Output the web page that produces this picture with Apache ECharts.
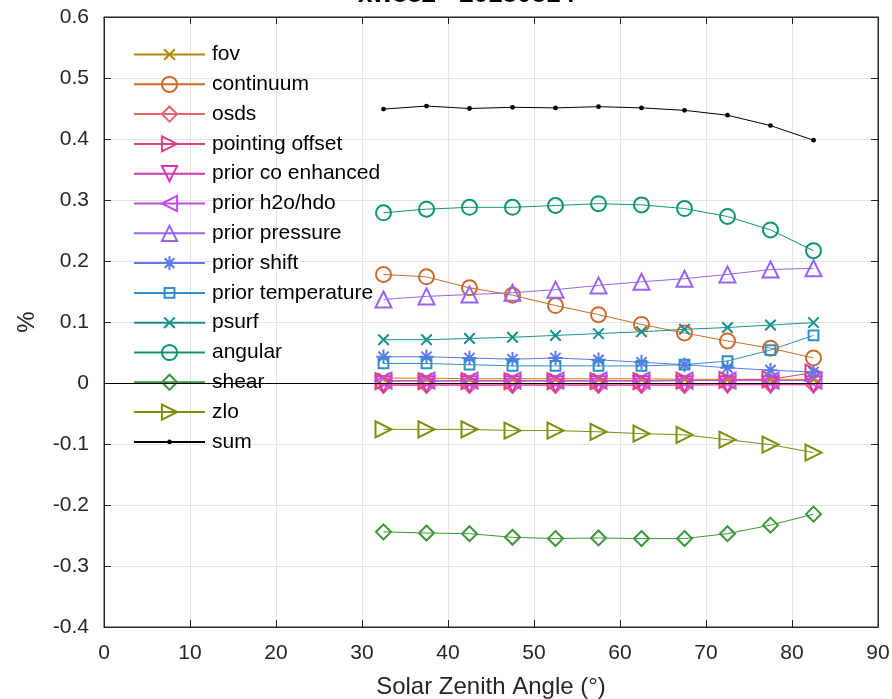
<!DOCTYPE html>
<html><head><meta charset="utf-8">
<script src="https://cdn.jsdelivr.net/npm/echarts@6/dist/echarts.min.js"></script>
<style>html,body{margin:0;padding:0;background:#fff;overflow:hidden}#c{width:892px;height:699px}</style>
</head><body><div id="c"></div>
<script>
const titleText = 'xw882 - 20180814';
const sza = [32.5, 37.5, 42.5, 47.5, 52.5, 57.5, 62.5, 67.5, 72.5, 77.5, 82.5];
const fov = [0.008, 0.008, 0.007, 0.007, 0.007, 0.007, 0.007, 0.006, 0.006, 0.006, 0.006];
const continuum = [0.178, 0.174, 0.156, 0.144, 0.127, 0.112, 0.096, 0.082, 0.069, 0.057, 0.041];
const osds = [-0.004, -0.004, -0.004, -0.004, -0.004, -0.004, -0.004, -0.004, -0.003, -0.003, -0.003];
const pointingOffset = [0.003, 0.003, 0.003, 0.003, 0.003, 0.003, 0.003, 0.004, 0.005, 0.006, 0.017];
const priorCo = [-0.002, -0.002, -0.002, -0.002, -0.002, -0.002, -0.002, -0.002, -0.002, -0.002, -0.002];
const priorH2o = [0.004, 0.004, 0.004, 0.004, 0.004, 0.004, 0.004, 0.004, 0.004, 0.004, 0.004];
const priorPressure = [0.137, 0.142, 0.145, 0.148, 0.153, 0.160, 0.166, 0.171, 0.178, 0.186, 0.188];
const priorShift = [0.043, 0.043, 0.041, 0.039, 0.041, 0.038, 0.034, 0.030, 0.025, 0.021, 0.018];
const priorTemperature = [0.032, 0.032, 0.030, 0.028, 0.028, 0.028, 0.028, 0.030, 0.036, 0.054, 0.078];
const psurf = [0.071, 0.071, 0.073, 0.075, 0.078, 0.081, 0.084, 0.088, 0.091, 0.095, 0.099];
const angular = [0.279, 0.285, 0.288, 0.288, 0.291, 0.294, 0.292, 0.286, 0.273, 0.251, 0.217];
const shear = [-0.244, -0.246, -0.247, -0.253, -0.255, -0.254, -0.255, -0.255, -0.247, -0.233, -0.215];
const zlo = [-0.076, -0.076, -0.076, -0.078, -0.078, -0.080, -0.083, -0.085, -0.093, -0.101, -0.114];
const sumVals = [0.449, 0.454, 0.450, 0.452, 0.451, 0.453, 0.451, 0.447, 0.439, 0.422, 0.398];

// padded path symbols (the M0,0M20,20 sets a fixed 20x20 box)
const XMARK = 'path://M0,0M20,20M3,3L17,17M17,3L3,17';
const SQUARE = 'path://M0,0M20,20M3.5,3.5L16.5,3.5L16.5,16.5L3.5,16.5Z';
const STAR = 'path://M0,0M20,20M10,1L10,19M1,10L19,10M3.6,3.6L16.4,16.4M16.4,3.6L3.6,16.4';
const DOT = 'path://M0,0M20,20M10,7A3,3,0,1,1,10,13A3,3,0,1,1,10,7Z';

const defs = [
  ['fov', fov, '#b8860b', XMARK, 15, 0],
  ['continuum', continuum, '#cd6a2c', 'circle', 15, 0],
  ['osds', osds, '#e4656f', 'diamond', 15, 0],
  ['pointing offset', pointingOffset, '#e23e88', 'triangle', 16, -90],
  ['prior co enhanced', priorCo, '#d535b5', 'triangle', 16, 180],
  ['prior h2o/hdo', priorH2o, '#bb4fe0', 'triangle', 16, 90],
  ['prior pressure', priorPressure, '#9a63ef', 'triangle', 16, 0],
  ['prior shift', priorShift, '#5d79ec', STAR, 16, 0],
  ['prior temperature', priorTemperature, '#2f8fc8', SQUARE, 15, 0],
  ['psurf', psurf, '#17918f', XMARK, 15, 0],
  ['angular', angular, '#0e9570', 'circle', 15, 0],
  ['shear', shear, '#3a973a', 'diamond', 15, 0],
  ['zlo', zlo, '#808c0c', 'triangle', 16, -90],
  ['sum', sumVals, '#000000', DOT, 16, 0]
];

const series = defs.map(([name, vals, col, sym, size, rot]) => {
  const isSum = name === 'sum';
  const s = {
    name, type: 'line',
    data: vals.map((v, i) => [sza[i], v]),
    symbol: sym, symbolSize: size, symbolRotate: rot,
    showAllSymbol: true,
    color: col,
    lineStyle: { color: col, width: 1 },
    itemStyle: isSum ? { color: col, borderColor: col, borderWidth: 0 } : { color: 'rgba(255,255,255,0)', borderColor: col, borderWidth: 2 },
    emphasis: { disabled: true },
    animation: false, z: 3
  };
  if (isSum) {
    s.markLine = {
      silent: true, symbol: 'none', label: { show: false },
      lineStyle: { color: '#000', width: 1, type: 'solid' },
      data: [{ yAxis: 0 }], animation: false
    };
  }
  return s;
});

const chart = echarts.init(document.getElementById('c'), null, { renderer: 'canvas' });
const FONT = 'Liberation Sans';
const AX = '#262626';
chart.setOption({
  backgroundColor: '#fff',
  animation: false,
  textStyle: { fontFamily: FONT },
  title: {
    text: titleText, left: 353, top: -23,
    textStyle: { fontFamily: FONT, fontSize: 26, fontWeight: 'bold', color: '#000' }
  },
  grid: { left: 104, right: 14, top: 17, bottom: 72, show: true, borderColor: AX, borderWidth: 1, containLabel: false, outerBoundsMode: 'none' },
  legend: {
    orient: 'vertical', left: 133, top: 44, padding: 0,
    itemWidth: 71, itemHeight: 19, itemGap: 8.8,
    textStyle: { fontFamily: FONT, fontSize: 21, lineHeight: 21, color: '#000', padding: [0, 0, 0, 2] },
    data: defs.map(d => d[0])
  },
  xAxis: [{
    type: 'value', min: 0, max: 90, interval: 10,
    name: 'Solar Zenith Angle (°)', nameLocation: 'middle', nameGap: 48,
    nameTextStyle: { fontFamily: FONT, fontSize: 24, color: AX },
    axisLine: { show: true, onZero: false, lineStyle: { color: AX } },
    axisTick: { show: true, inside: true, length: 7, lineStyle: { color: AX } },
    axisLabel: { fontFamily: FONT, fontSize: 21, color: AX, margin: 16 },
    splitLine: { show: true, lineStyle: { color: '#e3e3e3', width: 1 } }
  }, {
    type: 'value', min: 0, max: 90, interval: 10, position: 'top',
    axisLine: { show: true, onZero: false, lineStyle: { color: AX } },
    axisTick: { show: true, inside: true, length: 7, lineStyle: { color: AX } },
    axisLabel: { show: false }, splitLine: { show: false }
  }],
  yAxis: [{
    type: 'value', min: -0.4, max: 0.6, interval: 0.1,
    name: '%', nameLocation: 'middle', nameGap: 65, nameRotate: 90,
    nameTextStyle: { fontFamily: FONT, fontSize: 24, color: AX },
    axisLine: { show: true, onZero: false, lineStyle: { color: AX } },
    axisTick: { show: true, inside: true, length: 7, lineStyle: { color: AX } },
    axisLabel: {
      fontFamily: FONT, fontSize: 21, color: AX, margin: 15,
      formatter: v => { const r = Math.round(v * 10) / 10; return r === 0 ? '0' : r.toFixed(1); }
    },
    splitLine: { show: true, lineStyle: { color: '#e3e3e3', width: 1 } }
  }, {
    type: 'value', min: -0.4, max: 0.6, interval: 0.1, position: 'right',
    axisLine: { show: true, onZero: false, lineStyle: { color: AX } },
    axisTick: { show: true, inside: true, length: 7, lineStyle: { color: AX } },
    axisLabel: { show: false }, splitLine: { show: false }
  }],
  series
});
</script>
</body></html>
